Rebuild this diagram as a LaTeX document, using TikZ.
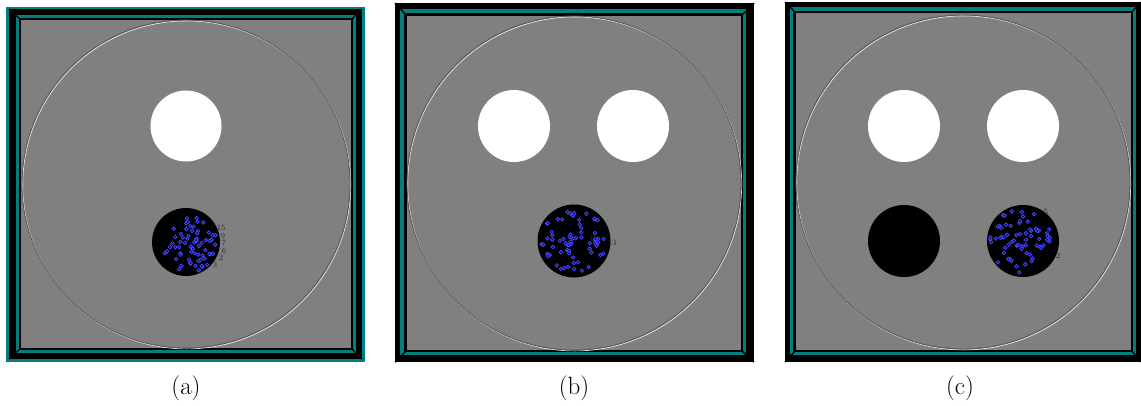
\documentclass[tikz,border=0pt]{standalone}
\usepackage{fontspec}
\usetikzlibrary{positioning}

\definecolor{tealband}{RGB}{0,128,128}
\definecolor{floorgray}{RGB}{128,128,128}

\tikzset{
  bevel/.style={black,line width=1.4pt},
  ring/.style={draw=black!65,line width=0.9pt},
  glint/.style={draw=white!90!gray,line width=0.7pt},
  hole/.style={fill=white},
  pit/.style={fill=black},
  bead/.style={draw=blue!70!white,fill=blue!55!black,line width=0.7pt},
  tag/.style={font=\fontsize{8}{8}\selectfont,text=black!85,inner sep=0pt},
  caption/.style={font=\fontsize{25}{28}\selectfont,inner sep=0pt}
}

\begin{document}
\begin{tikzpicture}[x=1pt,y=-1pt]
    \useasboundingbox (0,0) rectangle (1141,405);

    % panel a
    \fill[tealband] (6,7) rectangle (365,362);
    \fill[black] (9,9) rectangle (362,359);
    \fill[tealband] (16,15) rectangle (356,353);
    \fill[black] (19,18) rectangle (353,350);
    \fill[floorgray] (21,20) rectangle (351,348);
    \draw[bevel] (9,9)--(21,20) (362,9)--(351,20) (9,359)--(21,348) (362,359)--(351,348);
    \draw[glint] (186.7,184.9) circle (164);
    \draw[ring] (186,184) circle (164);
    \fill[hole] (186,126) circle (35.5);
    \fill[pit] (186,242) circle (34);
    \begin{scope}[shift={(190,245)}]
      \pgfmathsetseed{7}
      \foreach \i in {1,...,65}{
        \pgfmathsetmacro\rr{28*sqrt(rnd)}
        \pgfmathsetmacro\aa{360*rnd}
        \draw[bead] (\aa:\rr) circle (1.8);
      }
    \end{scope}
    \node[tag] (ta1) at (221,228) {15};
    \node[tag] (ta2) at (223,236) {9};
    \node[tag] (ta3) at (224,243) {7};
    \node[tag] (ta4) at (224,251) {6};
    \node[tag] (ta5) at (221,258) {2};
    \node[tag] (ta6) at (215,265) {3};
    \node[caption] (la) at (186,388) {(a)};

    % panel b
    \fill[black] (395,3) rectangle (754,362);
    \fill[tealband] (400,9) rectangle (746,355);
    \fill[black] (404,13) rectangle (743,352);
    \fill[floorgray] (407,16) rectangle (741,350);
    \draw[bevel] (395,3)--(407,16) (754,3)--(741,16) (395,362)--(407,350) (754,362)--(741,350);
    \draw[glint] (574.7,183.9) circle (167);
    \draw[ring] (574,183) circle (167);
    \fill[hole] (514,126) circle (36);
    \fill[hole] (633,126) circle (36);
    \fill[pit] (574,241) circle (36.5);
    \begin{scope}[shift={(574,241)}]
      \pgfmathsetseed{23}
      \foreach \i in {1,...,65}{
        \pgfmathsetmacro\rr{33*sqrt(rnd)}
        \pgfmathsetmacro\aa{360*rnd}
        \draw[bead] (\aa:\rr) circle (1.8);
      }
    \end{scope}
    \node[tag] (tb1) at (591,238) {4};
    \node[tag] (tb2) at (612,243) {13};
    \node[caption] (lb) at (574,388) {(b)};

    % panel c
    \fill[black] (785,2) rectangle (1141,362);
    \fill[tealband] (790,7) rectangle (1136,355);
    \fill[black] (793,11) rectangle (1133,352);
    \fill[floorgray] (796,13) rectangle (1131,350);
    \draw[bevel] (785,2)--(796,13) (1141,2)--(1131,13) (785,362)--(796,350) (1141,362)--(1131,350);
    \draw[glint] (963.7,182.9) circle (167);
    \draw[ring] (963,182) circle (167);
    \fill[hole] (904,126) circle (36);
    \fill[hole] (1023,126) circle (36);
    \fill[pit] (904,241) circle (36);
    \fill[pit] (1023,241) circle (36);
    \begin{scope}[shift={(1021,241)}]
      \pgfmathsetseed{41}
      \foreach \i in {1,...,65}{
        \pgfmathsetmacro\rr{32*sqrt(rnd)}
        \pgfmathsetmacro\aa{360*rnd}
        \draw[bead] (\aa:\rr) circle (1.8);
      }
    \end{scope}
    \node[tag] (tc1) at (1046,212) {5};
    \node[tag] (tc2) at (1058,256) {2};
    \node[caption] (lc) at (960,388) {(c)};
\end{tikzpicture}
\end{document}
